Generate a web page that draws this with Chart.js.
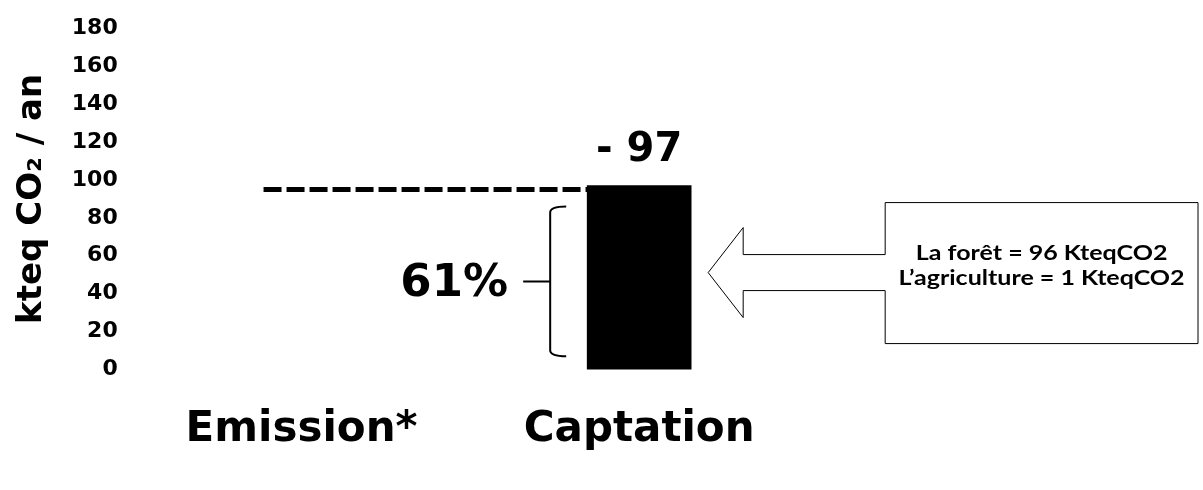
<!DOCTYPE html>
<html>
<head>
<meta charset="utf-8">
<script src="https://cdn.jsdelivr.net/npm/chart.js@4.4.0/dist/chart.umd.min.js"></script>
<style>
    html, body { margin: 0; padding: 0; background: #fff; }
    #wrap { width: 1203px; height: 490px; }
</style>
</head>
<body>
<div id="wrap"><canvas id="co2Chart"></canvas></div>
<script>
// Chart data
const categories = ["Emission*", "Captation"];
const values = [null, 97];
const yTicks = [0, 20, 40, 60, 80, 100, 120, 140, 160, 180];
const dashLevel = 95;
const braceRange = [7, 86];
const shareLabel = "61%";
const detailLines = ["La forêt = 96 KteqCO2", "L’agriculture = 1 KteqCO2"];

// Draw dashed line, brace, value label and the arrow box
const annotations = {
    id: "annotations",
    afterDatasetsDraw(chart) {
        const { ctx, scales: { x, y } } = chart;
        const bar = chart.getDatasetMeta(0).data[1];
        const barLeft = bar.x - bar.width / 2;
        const barRight = bar.x + bar.width / 2;
        const barMid = (bar.y + bar.base) / 2;

        ctx.save();
        ctx.fillStyle = "#000";
        ctx.strokeStyle = "#000";
        ctx.textAlign = "center";
        ctx.textBaseline = "middle";

        // value above the bar
        ctx.font = "bold 40px 'DejaVu Sans'";
        ctx.fillText("- " + values[1], bar.x, bar.y - 35);

        // dashed level line
        const dy = y.getPixelForValue(dashLevel);
        ctx.setLineDash([18, 5]);
        ctx.lineWidth = 5;
        ctx.beginPath();
        ctx.moveTo(x.getPixelForValue(0) - 38, dy);
        ctx.lineTo(barLeft, dy);
        ctx.stroke();
        ctx.setLineDash([]);

        // brace
        const bTop = y.getPixelForValue(braceRange[1]);
        const bBot = y.getPixelForValue(braceRange[0]);
        const bMid = (bTop + bBot) / 2;
        const bx = barLeft - 37;
        ctx.lineWidth = 2;
        ctx.beginPath();
        ctx.moveTo(bx + 16, bTop);
        ctx.quadraticCurveTo(bx, bTop, bx, bTop + 6);
        ctx.lineTo(bx, bBot - 6);
        ctx.quadraticCurveTo(bx, bBot, bx + 16, bBot);
        ctx.moveTo(bx, bMid);
        ctx.lineTo(bx - 27, bMid);
        ctx.stroke();

        ctx.font = "bold 45px 'DejaVu Sans'";
        ctx.fillText(shareLabel, barLeft - 133, bMid + 3);

        // arrow merged with the text box
        const cy = barMid - 5;
        const tip = barRight + 17;
        const boxL = tip + 177;
        const boxR = chart.width - 5;
        ctx.lineWidth = 1;
        ctx.beginPath();
        ctx.moveTo(boxL, cy - 18);
        ctx.lineTo(boxL, cy - 70);
        ctx.lineTo(boxR, cy - 70);
        ctx.lineTo(boxR, cy + 71);
        ctx.lineTo(boxL, cy + 71);
        ctx.lineTo(boxL, cy + 18);
        ctx.lineTo(tip + 35, cy + 18);
        ctx.lineTo(tip + 35, cy + 45);
        ctx.lineTo(tip, cy);
        ctx.lineTo(tip + 35, cy - 45);
        ctx.lineTo(tip + 35, cy - 18);
        ctx.closePath();
        ctx.stroke();

        // box text, stretched to the box width like the original
        ctx.font = "bold 20px Lato";
        const tx = (boxL + boxR) / 2;
        const stretch = 286 / ctx.measureText(detailLines[1]).width;
        ctx.translate(tx, cy);
        ctx.scale(stretch, 1);
        ctx.fillText(detailLines[0], 0, -19);
        ctx.fillText(detailLines[1], 0, 6);
        ctx.restore();
    }
};

const ctx = document.getElementById("co2Chart").getContext("2d");
new Chart(ctx, {
    type: "bar",
    data: {
        labels: categories,
        datasets: [{
            data: values,
            backgroundColor: "#000",
            barThickness: 104
        }]
    },
    options: {
        responsive: true,
        maintainAspectRatio: false,
        animation: false,
        layout: { padding: { top: 23, left: 8, right: 395, bottom: 0 } },
        plugins: { legend: { display: false }, tooltip: { enabled: false } },
        scales: {
            x: {
                grid: { display: false, drawTicks: false },
                border: { display: false },
                ticks: {
                    color: "#000",
                    padding: 43,
                    font: { family: "DejaVu Sans", size: 42, weight: "bold", lineHeight: 0.82 }
                }
            },
            y: {
                min: 0,
                max: 180,
                afterBuildTicks: axis => { axis.ticks = yTicks.map(v => ({ value: v })); },
                grid: { display: false, drawTicks: false },
                border: { display: false },
                ticks: {
                    color: "#000",
                    padding: 15,
                    font: { family: "DejaVu Sans", size: 22, weight: "bold" }
                },
                title: {
                    display: true,
                    text: "kteq CO₂ / an",
                    color: "#000",
                    padding: { top: 4, bottom: 4 },
                    font: { family: "DejaVu Sans", size: 34, weight: "bold" }
                }
            }
        }
    },
    plugins: [annotations]
});
</script>
</body>
</html>
